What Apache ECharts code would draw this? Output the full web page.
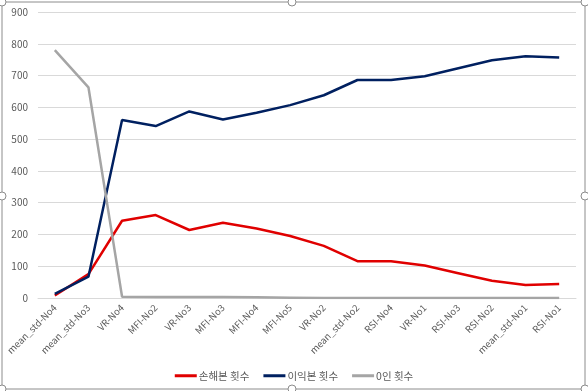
<!DOCTYPE html>
<html>
<head>
<meta charset="utf-8">
<script src="https://cdn.jsdelivr.net/npm/echarts@6/dist/echarts.min.js"></script>
<style>
html,body{margin:0;padding:0;background:#fff;}
#chart{width:588px;height:391px;}
</style>
</head>
<body>
<div id="chart"></div>
<script>
var categories = ['mean_std-No4','mean_std-No3','VR-No4','MFI-No2','VR-No3','MFI-No3','MFI-No4','MFI-No5',
    'VR-No2','mean_std-No2','RSI-No4','VR-No1','RSI-No3','RSI-No2','mean_std-No1','RSI-No1'];
var lossCount = [8, 75, 243, 261, 214, 237, 219, 195, 164, 116, 116, 102, 78, 54, 41, 44];
var gainCount = [13, 67, 560, 541, 587, 562, 583, 607, 638, 686, 686, 698, 723, 748, 761, 757];
var zeroCount = [780, 663, 4, 3, 3, 3, 2, 1, 0, 0, 0, 0, 0, 0, 0, 0];
var seriesNames = ['손해본 횟수', '이익본 횟수', '0인 횟수'];
var yTicks = {min: 0, max: 900, interval: 100};

var font = '"Noto Sans CJK KR", "Noto Sans", sans-serif';
var myChart = echarts.init(document.getElementById('chart'));

function mkLine(name, data, color) {
    return {
        name: name,
        type: 'line',
        data: data,
        symbol: 'none',
        lineStyle: {color: color, width: 2.5},
        itemStyle: {color: color},
        animation: false
    };
}

var handles = [[2, 2], [292, 2], [585, 2], [2, 196], [585, 196], [2, 389], [292, 389], [585, 389]];

var option = {
    backgroundColor: '#fff',
    animation: false,
    grid: {left: 38, right: 12, top: 12, bottom: 93},
    legend: {
        bottom: 5,
        left: 'center',
        itemWidth: 22,
        itemHeight: 3,
        itemGap: 14,
        icon: 'rect',
        textStyle: {color: '#595959', fontSize: 10.5, fontFamily: font, padding: [0, 0, 0, -3]},
        data: seriesNames
    },
    xAxis: {
        type: 'category',
        data: categories,
        boundaryGap: true,
        axisLine: {lineStyle: {color: '#d9d9d9'}},
        axisTick: {show: false},
        axisLabel: {rotate: 45, color: '#595959', fontSize: 9.5, fontFamily: font, interval: 0, margin: 8}
    },
    yAxis: {
        type: 'value',
        min: yTicks.min,
        max: yTicks.max,
        interval: yTicks.interval,
        axisLine: {show: false},
        axisTick: {show: false},
        axisLabel: {color: '#595959', fontSize: 10, fontFamily: font, margin: 10},
        splitLine: {lineStyle: {color: '#d9d9d9'}}
    },
    series: [
        mkLine(seriesNames[0], lossCount, '#E00000'),
        mkLine(seriesNames[1], gainCount, '#002060'),
        mkLine(seriesNames[2], zeroCount, '#a5a5a5')
    ],
    graphic: [{
        type: 'rect',
        shape: {x: 2, y: 2, width: 583, height: 387},
        style: {fill: null, stroke: '#8c8c8c', lineWidth: 1},
        silent: true
    }].concat(handles.map(function (p) {
        return {
            type: 'circle',
            shape: {cx: p[0], cy: p[1], r: 4},
            style: {fill: '#fff', stroke: '#8c8c8c', lineWidth: 1},
            silent: true,
            z: 10
        };
    }))
};
myChart.setOption(option);
</script>
</body>
</html>
